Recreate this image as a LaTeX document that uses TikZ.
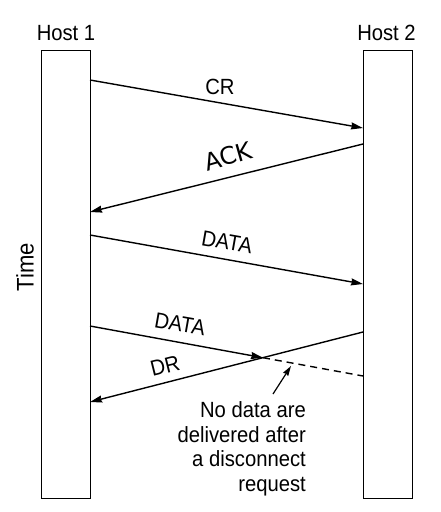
\documentclass[tikz,border=0pt]{standalone}
\usepackage{fontspec}
\setmainfont{Liberation Sans}[FakeStretch=0.92]
\newfontfamily\ackfont{DejaVu Sans}
\usetikzlibrary{arrows.meta}
\begin{document}
\begin{tikzpicture}[x=1pt,y=-1pt,
  hostbox/.style={draw, line width=1.2pt, minimum width=49pt, minimum height=448pt, anchor=north west, inner sep=0pt},
  lbl/.style={font=\fontsize{22}{24.5}\selectfont, inner sep=0pt},
  msg/.style={line width=1.4pt, -{Stealth[length=12pt,width=7pt,inset=1pt]}},
  lost/.style={line width=1.4pt, dashed, dash pattern=on 7pt off 5pt},
  pointer/.style={line width=1.2pt, -{Stealth[length=10pt,width=6pt,inset=1pt]}}]
\useasboundingbox (0,0) rectangle (440,512);
% hosts
\node[hostbox] (h1) at (41,50) {};
\node[hostbox] (h2) at (363,50) {};
\node[lbl, anchor=base] (h1l) at (66,40) {Host 1};
\node[lbl, anchor=base] (h2l) at (386.5,40) {Host 2};
\node[lbl, rotate=90, font=\fontsize{24}{26}\selectfont] (time) at (25,267) {Time};
% endpoints
\coordinate (crs) at (90,80);
\coordinate (cre) at (363,128);
\coordinate (acks) at (363,144);
\coordinate (acke) at (90,212);
\coordinate (d1s) at (90,235);
\coordinate (d1e) at (363,284);
\coordinate (d2s) at (90,326);
\coordinate (d2e) at (363,376);
\coordinate (drs) at (363,332);
\coordinate (dre) at (90,402);
\coordinate (cross) at (263,357.7);
% messages
\draw[msg] (crs) -- (cre);
\draw[msg] (acks) -- (acke);
\draw[msg] (d1s) -- (d1e);
\draw[msg] (d2s) -- (cross);
\draw[lost] (cross) -- (d2e);
\draw[msg] (drs) -- (dre);
% labels
\node[lbl] (crl) at (220,87) {CR};
\node[inner sep=0pt, rotate=16, font=\ackfont\fontsize{24}{26}\selectfont] (ackl) at (228,156) {ACK};
\node[lbl, rotate=-10] (d1l) at (227,242) {DATA};
\node[lbl, rotate=-10] (d2l) at (180,324) {DATA};
\node[lbl, rotate=14] (drl) at (165,366) {DR};
% note
\node[lbl, align=right, anchor=north east] (note) at (306,401.5) {No data are\\delivered after\\a disconnect\\request};
\coordinate (ptip) at (291,366);
\coordinate (ptail) at (273,394);
\draw[pointer] (ptail) -- (ptip);
\end{tikzpicture}
\end{document}
